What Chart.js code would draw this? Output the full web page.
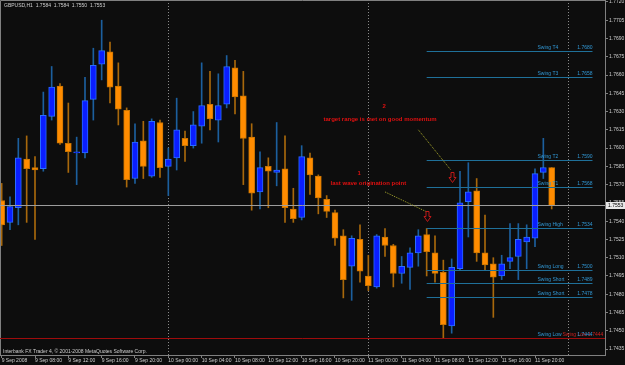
<!DOCTYPE html>
<html>
<head>
<meta charset="utf-8">
<script src="https://cdn.jsdelivr.net/npm/chart.js@4.4.0/dist/chart.umd.min.js"></script>
<style>
  html, body { margin: 0; padding: 0; background: #0d0d0d; }
  #wrap { position: relative; width: 625px; height: 365px; }
</style>
</head>
<body>
<div id="wrap"><canvas id="chart" width="625" height="365"></canvas></div>
<script>
// GBPUSD H1 - bar 0 = 9 Sep 2008 04:00
const opens  = [1.7557,1.7539,1.7551,1.7591,1.7584,1.7583,1.7626,1.7651,1.7604,1.7596,
                1.7596,1.7640,1.7669,1.7679,1.7651,1.7631,1.7575,1.7606,1.7577,1.7621,
                1.7585,1.7592,1.7608,1.7602,1.7618,1.7636,1.7623,1.7636,1.7666,1.7643,
                1.7609,1.7564,1.7585,1.7580,1.7583,1.7550,1.7543,1.7592,1.7577,1.7558,
                1.7547,1.7528,1.7503,1.7525,1.7495,1.7486,1.7527,1.7520,1.7497,1.7502,
                1.7514,1.7529,1.7514,1.7498,1.7454,1.7501,1.7556,1.7565,1.7514,1.7505,
                1.7495,1.7507,1.7511,1.7523,1.7526,1.7580,1.7584];
const highs  = [1.7571,1.7560,1.7608,1.7610,1.7593,1.7646,1.7667,1.7653,1.7637,1.7609,
                1.7658,1.7682,1.7705,1.7687,1.7670,1.7633,1.7620,1.7622,1.7624,1.7623,
                1.7600,1.7641,1.7614,1.7630,1.7670,1.7663,1.7661,1.7676,1.7672,1.7663,
                1.7620,1.7597,1.7592,1.7621,1.7610,1.7567,1.7602,1.7596,1.7578,1.7561,
                1.7549,1.7533,1.7528,1.7537,1.7512,1.7529,1.7534,1.7521,1.7511,1.7518,
                1.7533,1.7534,1.7528,1.7508,1.7509,1.7581,1.7588,1.7575,1.7545,1.7510,
                1.7512,1.7538,1.7538,1.7537,1.7583,1.7608,1.7584];
const lows   = [1.7520,1.7533,1.7537,1.7539,1.7525,1.7581,1.7623,1.7603,1.7580,1.7570,
                1.7592,1.7623,1.7656,1.7637,1.7619,1.7568,1.7571,1.7575,1.7576,1.7576,
                1.7561,1.7582,1.7589,1.7600,1.7604,1.7615,1.7605,1.7633,1.7628,1.7570,
                1.7549,1.7550,1.7551,1.7569,1.7539,1.7539,1.7541,1.7562,1.7546,1.7543,
                1.7520,1.7477,1.7475,1.7490,1.7483,1.7485,1.7511,1.7486,1.7489,1.7484,
                1.7503,1.7495,1.7490,1.7444,1.7448,1.7500,1.7527,1.7507,1.7500,1.7461,
                1.7492,1.7501,1.7492,1.7501,1.7519,1.7575,1.7550];
const closes = [1.7537,1.7552,1.7592,1.7583,1.7582,1.7627,1.7650,1.7604,1.7597,1.7597,
                1.7639,1.7668,1.7680,1.7650,1.7632,1.7574,1.7605,1.7585,1.7622,1.7584,
                1.7591,1.7615,1.7602,1.7619,1.7635,1.7624,1.7635,1.7667,1.7642,1.7608,
                1.7563,1.7584,1.7581,1.7582,1.7551,1.7542,1.7593,1.7578,1.7559,1.7548,
                1.7526,1.7492,1.7526,1.7499,1.7487,1.7528,1.7520,1.7497,1.7503,1.7514,
                1.7528,1.7515,1.7497,1.7455,1.7502,1.7555,1.7564,1.7514,1.7504,1.7494,
                1.7505,1.7510,1.7525,1.7527,1.7579,1.7584,1.7553];

const priceTicks = [1.7720,1.7705,1.7690,1.7675,1.7660,1.7645,1.7630,1.7615,1.7600,1.7585,
                    1.7570,1.7555,1.7540,1.7525,1.7510,1.7495,1.7480,1.7465,1.7450,1.7435];
const timeTickBars = [0,4,8,12,16,20,24,28,32,36,40,44,48,52,56,60,64];
const timeTickLabels = ['9 Sep 2008','9 Sep 08:00','9 Sep 12:00','9 Sep 16:00','9 Sep 20:00',
                        '10 Sep 00:00','10 Sep 04:00','10 Sep 08:00','10 Sep 12:00','10 Sep 16:00','10 Sep 20:00',
                        '11 Sep 00:00','11 Sep 04:00','11 Sep 08:00','11 Sep 12:00','11 Sep 16:00','11 Sep 20:00'];
const daySeparators = [20, 44, 68];

const bid = 1.7553;
const swingNames  = ['Swing T4','Swing T3','Swing T2','Swing T1','Swing High','Swing Long','Swing Short','Swing Short'];
const swingLevels = [1.7680, 1.7658, 1.7590, 1.7568, 1.7534, 1.7500, 1.7489, 1.7478];
const swingLow = 1.7444;

// chart objects (bar index, price)
const notes = [
  { bar: 45.9, price: 1.7634, text: '2' },
  { bar: 45.4, price: 1.7624, text: 'target range is met on good momentum' },
  { bar: 42.9, price: 1.7579, text: '1' },
  { bar: 44.0, price: 1.7571, text: 'last wave origination point' }
];
const arrows = [ { bar: 51, price: 1.7548 }, { bar: 54, price: 1.7580 } ];
const trendlines = [ [46.0, 1.7564, 50.9, 1.7548], [50.0, 1.7615, 53.9, 1.7582] ];

const UP = '#0a1eff', UP_EDGE = '#2a6cff', UP_WICK = '#1c5f9e';
const DN = '#ff8c00', DN_EDGE = '#c97400', DN_WICK = '#a8680c';
const FONT = '"Liberation Sans", Arial, sans-serif';

const isUp = opens.map((o, i) => closes[i] >= o);

const wickData = highs.map((h, i) => ({ x: i, y: [lows[i], h] }));
const bodyData = opens.map((o, i) => {
  let lo = Math.min(o, closes[i]), hi = Math.max(o, closes[i]);
  if (hi - lo < 0.00008) { hi += 0.00004; lo -= 0.00004; }
  return { x: i, y: [lo, hi] };
});

const overlay = {
  id: 'overlay',
  beforeDatasetsDraw(chart) {
    const { ctx, chartArea: a, scales: { x } } = chart;
    ctx.save();
    ctx.strokeStyle = '#8a8a8a';
    ctx.lineWidth = 1;
    ctx.setLineDash([1, 2]);
    daySeparators.forEach(b => {
      const px = Math.round(x.getPixelForValue(b)) + 0.5;
      ctx.beginPath(); ctx.moveTo(px, a.top); ctx.lineTo(px, a.bottom); ctx.stroke();
    });
    ctx.restore();
  },
  afterDatasetsDraw(chart) {
    const { ctx, chartArea: a, scales: { x, y } } = chart;
    ctx.save();
    // frame left / top
    ctx.strokeStyle = '#808080';
    ctx.lineWidth = 1;
    ctx.beginPath(); ctx.moveTo(0.5, a.bottom); ctx.lineTo(0.5, 0.5); ctx.lineTo(a.right, 0.5); ctx.stroke();

    // bid line
    const by = Math.round(y.getPixelForValue(bid)) + 0.5;
    ctx.strokeStyle = '#9c9c9c';
    ctx.beginPath(); ctx.moveTo(a.left, by); ctx.lineTo(a.right, by); ctx.stroke();

    // swing low (red)
    const ly = Math.round(y.getPixelForValue(swingLow)) + 0.5;
    ctx.strokeStyle = '#9e0c0c';
    ctx.beginPath(); ctx.moveTo(a.left, ly); ctx.lineTo(a.right, ly); ctx.stroke();

    // swing levels
    const x0 = x.getPixelForValue(51), x1 = x.getPixelForValue(70.9);
    ctx.font = '5px ' + FONT;
    ctx.textBaseline = 'bottom';
    swingLevels.forEach((lv, i) => {
      const py = Math.round(y.getPixelForValue(lv)) + 0.5;
      ctx.strokeStyle = '#1f7099';
      ctx.beginPath(); ctx.moveTo(x0, py); ctx.lineTo(x1, py); ctx.stroke();
      ctx.fillStyle = '#3197d4';
      ctx.textAlign = 'left';
      ctx.fillText(swingNames[i], x1 - 55, py - 1);
      ctx.textAlign = 'right';
      ctx.fillText(lv.toFixed(4), x1, py - 1);
    });
    ctx.fillStyle = '#3197d4';
    ctx.textAlign = 'left';
    ctx.fillText('Swing Low', x1 - 55, ly - 1);
    ctx.fillStyle = '#d02020';
    ctx.fillText('Swing Low 1.7444', x1 - 30, ly - 1);
    ctx.fillStyle = '#3197d4';
    ctx.textAlign = 'right';
    ctx.fillText(swingLow.toFixed(4), x1, ly - 1);

    // trend lines
    ctx.strokeStyle = '#a6a62c';
    ctx.setLineDash([1, 1]);
    trendlines.forEach(t => {
      ctx.beginPath();
      ctx.moveTo(x.getPixelForValue(t[0]), y.getPixelForValue(t[1]));
      ctx.lineTo(x.getPixelForValue(t[2]), y.getPixelForValue(t[3]));
      ctx.stroke();
    });
    ctx.setLineDash([]);

    // arrows
    ctx.strokeStyle = '#c01818';
    arrows.forEach(ar => {
      const cx = Math.round(x.getPixelForValue(ar.bar)) + 0.5;
      const top = Math.round(y.getPixelForValue(ar.price)) + 0.5;
      ctx.beginPath();
      ctx.moveTo(cx - 1.5, top); ctx.lineTo(cx + 1.5, top); ctx.lineTo(cx + 1.5, top + 5);
      ctx.lineTo(cx + 3.5, top + 5); ctx.lineTo(cx, top + 10); ctx.lineTo(cx - 3.5, top + 5);
      ctx.lineTo(cx - 1.5, top + 5); ctx.closePath(); ctx.stroke();
    });

    // text notes
    ctx.fillStyle = '#e01010';
    ctx.font = 'bold 6px ' + FONT;
    ctx.textAlign = 'center';
    ctx.textBaseline = 'middle';
    notes.forEach(n => ctx.fillText(n.text, x.getPixelForValue(n.bar), y.getPixelForValue(n.price)));
    ctx.restore();
  },
  afterDraw(chart) {
    const { ctx, chartArea: a, scales: { y } } = chart;
    ctx.save();
    // bid price box on the axis
    const by = Math.round(y.getPixelForValue(bid));
    ctx.fillStyle = '#e8e8e8';
    ctx.fillRect(a.right + 1, by - 3, 19, 7);
    ctx.fillStyle = '#000';
    ctx.font = '5px ' + FONT;
    ctx.textAlign = 'left';
    ctx.textBaseline = 'middle';
    ctx.fillText(bid.toFixed(4), a.right + 3, by + 0.5);
    // header & copyright
    ctx.fillStyle = '#cfcfcf';
    ctx.textBaseline = 'top';
    ctx.fillText('GBPUSD,H1  1.7584  1.7584  1.7550  1.7553', 4, 3);
    ctx.textBaseline = 'bottom';
    ctx.fillText('Interbank FX Trader 4, \u00a9 2001-2008 MetaQuotes Software Corp.', 3, a.bottom - 1);
    ctx.restore();
  }
};

new Chart(document.getElementById('chart'), {
  type: 'bar',
  data: {
    datasets: [
      {
        label: 'wick',
        data: wickData,
        backgroundColor: isUp.map(u => u ? UP_WICK : DN_WICK),
        borderWidth: 0,
        barThickness: 1,
        grouped: false,
        order: 2
      },
      {
        label: 'body',
        data: bodyData,
        backgroundColor: isUp.map(u => u ? UP : DN),
        borderColor: isUp.map(u => u ? UP_EDGE : DN_EDGE),
        borderWidth: 1,
        borderSkipped: false,
        barThickness: 6,
        grouped: false,
        order: 1
      }
    ]
  },
  options: {
    responsive: false,
    animation: false,
    devicePixelRatio: 1,
    layout: { padding: 0 },
    plugins: { legend: { display: false }, tooltip: { enabled: false } },
    scales: {
      x: {
        type: 'linear',
        offset: false,
        min: -0.2,
        max: 72.4,
        afterBuildTicks: s => { s.ticks = timeTickBars.map(v => ({ value: v })); },
        afterFit: s => { s.height = 10; s.paddingLeft = 0; s.paddingRight = 0; },
        ticks: {
          autoSkip: false,
          maxRotation: 0,
          align: 'start',
          padding: 0,
          color: '#cfcfcf',
          font: { family: FONT, size: 5 },
          callback: v => timeTickLabels[timeTickBars.indexOf(v)]
        },
        grid: { offset: false, drawOnChartArea: false, tickLength: 3, color: '#808080' },
        border: { color: '#808080' }
      },
      y: {
        type: 'linear',
        position: 'right',
        min: 1.74301,
        max: 1.77216,
        afterBuildTicks: s => { s.ticks = priceTicks.map(v => ({ value: v })); },
        afterFit: s => { s.width = 20; s.paddingTop = 0; s.paddingBottom = 0; },
        ticks: {
          padding: 1,
          color: '#cfcfcf',
          font: { family: FONT, size: 5 },
          callback: v => v.toFixed(4)
        },
        grid: { drawOnChartArea: false, tickLength: 3, color: '#808080' },
        border: { color: '#808080' }
      }
    }
  },
  plugins: [overlay]
});
</script>
</body>
</html>
